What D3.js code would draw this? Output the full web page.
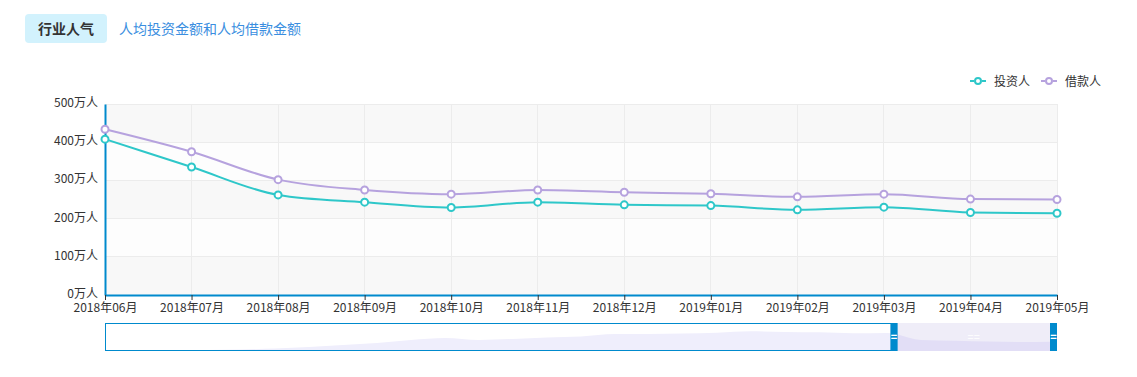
<!DOCTYPE html>
<html>
<head>
<meta charset="utf-8">
<script src="https://cdn.jsdelivr.net/npm/d3@7/dist/d3.min.js"></script>
<style>
  html, body { margin: 0; padding: 0; background: #fff; }
  svg { display: block; font-family: "Noto Sans CJK SC", "Noto Sans", sans-serif; }
</style>
</head>
<body>
<svg id="chart" width="1137" height="377"></svg>
<script>
// ---- data ----
const months = ["2018年06月","2018年07月","2018年08月","2018年09月","2018年10月","2018年11月",
                "2018年12月","2019年01月","2019年02月","2019年03月","2019年04月","2019年05月"];
const investors = [408, 335, 262, 243, 229, 243, 236, 234, 223, 230, 216, 214];
const borrowers = [434, 375, 302, 275, 264, 275, 269, 265, 257, 264, 251, 250];
const yTicks = [0, 100, 200, 300, 400, 500];
const seriesNames = ["投资人", "借款人"];
const tabs = ["行业人气", "人均投资金额和人均借款金额"];
// overview (dataZoom) shadow, relative heights along the full timeline
const zoomShadow = [0, 0, 0.5, 1, 1.5, 2.5, 4, 6, 8, 11, 13, 11, 12, 13.5, 14.5, 17, 17, 17.5,
                    18.3, 19.7, 19, 18.7, 17.7, 18, 11, 10.3, 9.5, 9, 9.3];
const zoomWindow = [0.825, 1.0];

// ---- layout ----
const svg = d3.select("#chart");
const L = 105, R = 1057, T = 104, B = 295;
const colors = ["#2ec7c9", "#b6a2de"];
const axisBlue = "#008acd";

const x = d3.scalePoint().domain(months).range([L, R]);
const y = d3.scaleLinear().domain([0, 500]).range([B, T]);

// tabs
svg.append("rect").attr("x", 25).attr("y", 14).attr("width", 82).attr("height", 29)
  .attr("rx", 4).attr("fill", "#d2f2fd");
svg.append("text").attr("x", 66).attr("y", 34).attr("text-anchor", "middle")
  .attr("font-size", 14).attr("font-weight", "bold").attr("fill", "#333").text(tabs[0]);
svg.append("text").attr("x", 119).attr("y", 34)
  .attr("font-size", 14).attr("fill", "#3a8ee0").text(tabs[1]);

// split areas
const bandColors = ["#f8f8f8", "#fdfdfd"];
for (let i = 0; i < yTicks.length - 1; i++) {
  svg.append("rect").attr("x", L).attr("y", y(yTicks[i + 1]))
    .attr("width", R - L).attr("height", y(yTicks[i]) - y(yTicks[i + 1]))
    .attr("fill", bandColors[i % 2]);
}
// grid lines
svg.append("g").selectAll("line").data(yTicks).join("line")
  .attr("x1", L).attr("x2", R).attr("y1", d => y(d)).attr("y2", d => y(d))
  .attr("stroke", "#ececec").attr("stroke-width", 1).attr("shape-rendering", "crispEdges");
svg.append("g").selectAll("line").data(months).join("line")
  .attr("x1", d => x(d)).attr("x2", d => x(d)).attr("y1", T).attr("y2", B)
  .attr("stroke", "#ececec").attr("stroke-width", 1).attr("shape-rendering", "crispEdges");

// y axis
const yAxis = d3.axisLeft(y).tickValues(yTicks).tickSize(0).tickPadding(7)
  .tickFormat(d => d + "万人");
const gy = svg.append("g").attr("transform", `translate(${L},0)`).call(yAxis);
gy.select(".domain").attr("stroke", axisBlue).attr("stroke-width", 2);
gy.selectAll("text").attr("font-size", 12).attr("fill", "#333").attr("dy", "0.2em")
  .attr("font-family", "'Noto Sans CJK SC', sans-serif");

// x axis
const xAxis = d3.axisBottom(x).tickSize(5).tickSizeOuter(0).tickPadding(3);
const gx = svg.append("g").attr("transform", `translate(0,${B})`).call(xAxis);
gx.select(".domain").attr("stroke", axisBlue).attr("stroke-width", 2);
gx.selectAll(".tick line").attr("stroke", "#333");
gx.selectAll("text").attr("font-size", 12).attr("fill", "#333")
  .attr("font-family", "'Noto Sans CJK SC', sans-serif");

// lines
const line = d3.line().x((d, i) => x(months[i])).y(d => y(d)).curve(d3.curveMonotoneX);
[investors, borrowers].forEach((data, k) => {
  svg.append("path").datum(data).attr("d", line).attr("fill", "none")
    .attr("stroke", colors[k]).attr("stroke-width", 2);
  svg.append("g").selectAll("circle").data(data).join("circle")
    .attr("cx", (d, i) => x(months[i])).attr("cy", d => y(d)).attr("r", 3.5)
    .attr("fill", "#fff").attr("stroke", colors[k]).attr("stroke-width", 2);
});

// legend
const legendX = [970, 1041];
seriesNames.forEach((name, k) => {
  const g = svg.append("g").attr("transform", `translate(${legendX[k]},81)`);
  g.append("line").attr("x1", 0).attr("x2", 4).attr("y1", 0).attr("y2", 0)
    .attr("stroke", colors[k]).attr("stroke-width", 2);
  g.append("line").attr("x1", 12).attr("x2", 16).attr("y1", 0).attr("y2", 0)
    .attr("stroke", colors[k]).attr("stroke-width", 2);
  g.append("circle").attr("cx", 8).attr("cy", 0).attr("r", 3)
    .attr("fill", "#fff").attr("stroke", colors[k]).attr("stroke-width", 2);
  g.append("text").attr("x", 24).attr("y", 4.5).attr("font-size", 12).attr("fill", "#333").text(name);
});

// dataZoom
const zT = 323, zB = 351;
const zx = d3.scaleLinear().domain([0, zoomShadow.length - 1]).range([L, R]);
const zy = d3.scaleLinear().domain([0, 28]).range([zB, zT]);
const area = d3.area().x((d, i) => zx(i)).y0(zB).y1(d => zy(d)).curve(d3.curveMonotoneX);
const wx = d3.scaleLinear().domain([0, 1]).range([L, R]);
const fillL = wx(zoomWindow[0]) + 7, fillR = wx(zoomWindow[1]) - 7;

svg.append("defs").append("clipPath").attr("id", "selClip")
  .append("rect").attr("x", fillL).attr("y", zT).attr("width", fillR - fillL).attr("height", zB - zT);
svg.append("rect").attr("x", L).attr("y", zT).attr("width", R - L).attr("height", zB - zT)
  .attr("fill", "#fff");
svg.append("path").datum(zoomShadow).attr("d", area).attr("fill", "#efeefc");
svg.append("rect").attr("x", fillL).attr("y", zT).attr("width", fillR - fillL).attr("height", zB - zT)
  .attr("fill", "#efedf8");
svg.append("path").datum(zoomShadow).attr("d", area).attr("fill", "#e2def6")
  .attr("clip-path", "url(#selClip)");
svg.append("rect").attr("x", L + 0.5).attr("y", zT + 0.5).attr("width", fillL - L - 1).attr("height", zB - zT - 1)
  .attr("fill", "none").attr("stroke", axisBlue).attr("stroke-width", 1);
[wx(zoomWindow[0]), fillR].forEach(hx => {
  svg.append("rect").attr("x", hx).attr("y", zT).attr("width", 7).attr("height", zB - zT).attr("fill", axisBlue);
  svg.append("text").attr("x", hx + 3.5).attr("y", (zT + zB) / 2 + 4).attr("text-anchor", "middle")
    .attr("font-size", 11).attr("font-weight", "bold").attr("fill", "#fff").text("=");
});
svg.append("text").attr("x", (fillL + fillR) / 2).attr("y", (zT + zB) / 2 + 4).attr("text-anchor", "middle")
  .attr("font-size", 11).attr("fill", "#fff").text("==");
</script>
</body>
</html>
